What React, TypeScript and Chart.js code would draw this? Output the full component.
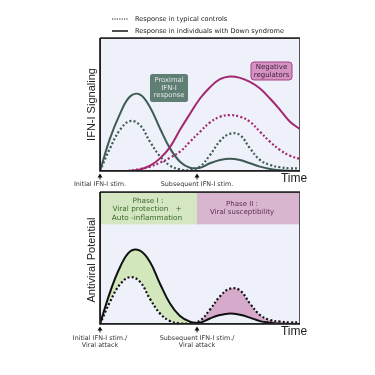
import React, { useEffect, useRef } from "react";
import { Chart, registerables } from "chart.js";

Chart.register(...registerables);

// ---------- data (x in arbitrary time units 0..10, y in arbitrary response units 0..10) ----------
const timeGrid = [0, 0.5, 1, 1.5, 2, 2.5, 3, 3.5, 4, 4.5, 5, 5.5, 6, 6.5, 7, 7.5, 8, 8.5, 9, 9.5, 10];
const regTime = [1.4, 2, 2.5, 3, 3.5, 4, 4.5, 5, 5.5, 6, 6.5, 7, 7.5, 8, 8.5, 9, 9.5, 10];

// Top panel: IFN-I signaling
const proximalDS = [0, 2.45, 4.3, 5.6, 5.75, 4.8, 3.2, 1.7, 0.7, 0.25, 0.25, 0.58, 0.83, 0.93, 0.83, 0.58, 0.33, 0.15, 0.05, 0.01, 0];
const proximalCtrl = [0, 1.7, 3.1, 3.75, 3.45, 2.2, 1.1, 0.4, 0.12, 0.07, 0.33, 1.2, 2.25, 2.8, 2.7, 1.7, 0.83, 0.45, 0.28, 0.2, 0.2];
const negRegDS = [0, 0.12, 0.4, 0.95, 1.8, 3.1, 4.3, 5.45, 6.3, 6.9, 7.1, 7.0, 6.7, 6.2, 5.45, 4.6, 3.7, 3.15];
const negRegCtrl = [0, 0.15, 0.33, 0.63, 1.0, 1.45, 2.2, 2.95, 3.65, 4.08, 4.2, 4.08, 3.7, 2.95, 2.2, 1.58, 1.15, 0.9];

// Bottom panel: antiviral potential
const antiviralDS = [0, 2.4, 4.3, 5.5, 5.55, 4.7, 3.05, 1.55, 0.6, 0.18, 0.1, 0.42, 0.68, 0.8, 0.7, 0.48, 0.22, 0.1, 0.02, 0, 0];
const antiviralCtrl = [0, 1.68, 3.0, 3.55, 3.2, 1.9, 0.8, 0.22, 0.05, 0.05, 0.25, 1.1, 2.1, 2.68, 2.55, 1.55, 0.68, 0.3, 0.18, 0.12, 0.12];

// stimulation times (arrows)
const stimTimes = [0, 4.85];
const topStimLabels = ["Initial IFN-I stim.", "Subsequent IFN-I stim."];
const bottomStimLabels = [["Initial IFN-I stim./", "Viral attack"], ["Subsequent IFN-I stim./", "Viral attack"]];
const legendLabels = ["Response in typical controls", "Response in individuals with Down syndrome"];

const GREEN = "#3d5b53";
const MAGENTA = "#a3276f";
const BG = "#eef0fa";

const pts = (xs: number[], ys: number[]) => xs.map((x, i) => ({ x, y: ys[i] }));

function drawArrow(ctx: CanvasRenderingContext2D, x: number, yTip: number) {
  ctx.save();
  ctx.fillStyle = "#111";
  ctx.strokeStyle = "#111";
  ctx.lineWidth = 1;
  ctx.beginPath();
  ctx.moveTo(x, yTip);
  ctx.lineTo(x - 2.5, yTip + 4);
  ctx.lineTo(x + 2.5, yTip + 4);
  ctx.closePath();
  ctx.fill();
  ctx.beginPath();
  ctx.moveTo(x, yTip + 3);
  ctx.lineTo(x, yTip + 6);
  ctx.stroke();
  ctx.restore();
}

function roundRect(ctx: CanvasRenderingContext2D, x: number, y: number, w: number, h: number, r: number) {
  ctx.beginPath();
  ctx.moveTo(x + r, y);
  ctx.lineTo(x + w - r, y);
  ctx.quadraticCurveTo(x + w, y, x + w, y + r);
  ctx.lineTo(x + w, y + h - r);
  ctx.quadraticCurveTo(x + w, y + h, x + w - r, y + h);
  ctx.lineTo(x + r, y + h);
  ctx.quadraticCurveTo(x, y + h, x, y + h - r);
  ctx.lineTo(x, y + r);
  ctx.quadraticCurveTo(x, y, x + r, y);
  ctx.closePath();
}

const bgPlugin = (bottom: boolean) => ({
  id: "bgPanel",
  beforeDraw(chart: any) {
    const { ctx, chartArea: a, scales } = chart;
    ctx.save();
    ctx.fillStyle = BG;
    ctx.fillRect(a.left, a.top, a.right - a.left, a.bottom - a.top);
    if (bottom) {
      const xs = scales.x, ys = scales.y;
      const yb = ys.getPixelForValue(7.55);
      const xm = xs.getPixelForValue(stimTimes[1]);
      ctx.fillStyle = "#d4e7c2";
      ctx.fillRect(a.left, a.top, xm - a.left, yb - a.top);
      ctx.fillStyle = "#d8b6d0";
      ctx.fillRect(xm, a.top, a.right - xm, yb - a.top);
    }
    ctx.restore();
  },
  afterDatasetsDraw(chart: any) {
    const { ctx, chartArea: a, scales } = chart;
    const xs = scales.x;
    ctx.save();
    // frame
    ctx.strokeStyle = "#555";
    ctx.lineWidth = 1;
    ctx.strokeRect(a.left + 0.5, a.top + 0.5, a.right - a.left - 1, a.bottom - a.top - 1);
    ctx.strokeStyle = "#222";
    ctx.lineWidth = 1.5;
    ctx.beginPath();
    ctx.moveTo(a.left, a.top);
    ctx.lineTo(a.right, a.top);
    ctx.stroke();
    ctx.strokeStyle = "#111";
    ctx.lineWidth = 1.6;
    ctx.beginPath();
    ctx.moveTo(a.left, a.top);
    ctx.lineTo(a.left, a.bottom);
    ctx.lineTo(a.right, a.bottom);
    ctx.stroke();

    ctx.textAlign = "center";
    ctx.textBaseline = "middle";
    // y axis title
    ctx.save();
    ctx.translate(a.left - 8, (a.top + a.bottom) / 2 + (bottom ? 2 : 0));
    ctx.rotate(-Math.PI / 2);
    ctx.fillStyle = "#222";
    ctx.font = "11px 'Liberation Sans', Arial, sans-serif";
    ctx.fillText(bottom ? "Antiviral Potential" : "IFN-I Signaling", 0, 0);
    ctx.restore();
    // Time label
    ctx.fillStyle = "#222";
    ctx.font = "12px 'Liberation Sans', Arial, sans-serif";
    ctx.fillText("Time", a.right - 6, a.bottom + 8);

    // arrows + labels
    ctx.font = "6.4px 'DejaVu Sans', sans-serif";
    stimTimes.forEach((t, i) => {
      const x = xs.getPixelForValue(t);
      drawArrow(ctx, x, a.bottom + 2.5);
      ctx.fillStyle = "#333";
      if (bottom) {
        ctx.fillText(bottomStimLabels[i][0], x, a.bottom + 14);
        ctx.fillText(bottomStimLabels[i][1], x, a.bottom + 21);
      } else {
        ctx.fillText(topStimLabels[i], x, a.bottom + 13.5);
      }
    });

    if (!bottom) {
      // Proximal box
      roundRect(ctx, 150, 74, 38, 28, 2.5);
      ctx.fillStyle = "#5f7e74";
      ctx.fill();
      ctx.fillStyle = "#e4ece6";
      ctx.font = "6.8px 'DejaVu Sans', sans-serif";
      ctx.fillText("Proximal", 169, 80.5);
      ctx.fillText("IFN-I", 169, 88);
      ctx.fillText("response", 169, 95.5);
      // Negative regulators box
      roundRect(ctx, 251, 62, 41, 18, 3);
      ctx.fillStyle = "#d592c4";
      ctx.fill();
      ctx.strokeStyle = "#a3407e";
      ctx.lineWidth = 1;
      ctx.stroke();
      ctx.fillStyle = "#3c1f37";
      ctx.font = "7px 'DejaVu Sans', sans-serif";
      ctx.fillText("Negative", 271.5, 67.5);
      ctx.fillText("regulators", 271.5, 75);
      // legend
      ctx.strokeStyle = "#222";
      ctx.lineWidth = 1.2;
      ctx.setLineDash([1.2, 1.2]);
      ctx.beginPath();
      ctx.moveTo(112, 19);
      ctx.lineTo(128, 19);
      ctx.stroke();
      ctx.setLineDash([]);
      ctx.lineWidth = 1.6;
      ctx.beginPath();
      ctx.moveTo(112, 31);
      ctx.lineTo(128, 31);
      ctx.stroke();
      ctx.textAlign = "left";
      ctx.fillStyle = "#222";
      ctx.font = "6.6px 'DejaVu Sans', sans-serif";
      ctx.fillText(legendLabels[0], 135, 19);
      ctx.fillText(legendLabels[1], 135, 31);
    } else {
      ctx.font = "7.3px 'DejaVu Sans', sans-serif";
      ctx.fillStyle = "#3b6a2c";
      ctx.fillText("Phase I :", 148, 201);
      ctx.fillText("Viral protection   +", 147, 209.5);
      ctx.fillText("Auto -inflammation", 147, 218);
      ctx.fillStyle = "#5c2c54";
      ctx.font = "7px 'DejaVu Sans', sans-serif";
      ctx.fillText("Phase II :", 242, 204);
      ctx.fillText("Viral susceptibility", 242, 212);
    }
    ctx.restore();
  },
});

const baseOptions = (padding: any) => ({
  responsive: false,
  animation: false as const,
  devicePixelRatio: 1,
  layout: { padding },
  plugins: { legend: { display: false }, tooltip: { enabled: false }, filler: { drawTime: "beforeDatasetsDraw" } },
  elements: { point: { radius: 0 } },
  scales: {
    x: { type: "linear" as const, min: 0, max: 10, display: false },
    y: { min: 0, max: 10, display: false },
  },
});

export default function App() {
  const topRef = useRef<HTMLCanvasElement>(null);
  const botRef = useRef<HTMLCanvasElement>(null);

  useEffect(() => {
    const common = { tension: 0.4, pointRadius: 0, borderWidth: 2 };
    const dotted = { borderDash: [2, 2.2], borderCapStyle: "butt" as const, borderWidth: 2.2 };
    const top = new Chart(topRef.current!, {
      type: "line",
      data: {
        datasets: [
          { ...common, ...dotted, data: pts(regTime, negRegCtrl), borderColor: MAGENTA, fill: false },
          { ...common, data: pts(regTime, negRegDS), borderColor: MAGENTA, fill: false },
          { ...common, ...dotted, data: pts(timeGrid, proximalCtrl), borderColor: GREEN, fill: false },
          { ...common, data: pts(timeGrid, proximalDS), borderColor: GREEN, fill: false },
        ],
      },
      options: baseOptions({ left: 100, right: 75, top: 38, bottom: 204 }) as any,
      plugins: [bgPlugin(false)],
    });
    const bot = new Chart(botRef.current!, {
      type: "line",
      data: {
        datasets: [
          {
            ...common,
            data: pts(timeGrid, antiviralDS),
            borderColor: "#111",
            fill: { target: 1, above: "#d3e7bd", below: "#d6aacb" },
          },
          { ...common, ...dotted, data: pts(timeGrid, antiviralCtrl), borderColor: "#111", fill: false },
        ],
      },
      options: baseOptions({ left: 100, right: 75, top: 192, bottom: 51 }) as any,
      plugins: [bgPlugin(true)],
    });
    return () => {
      top.destroy();
      bot.destroy();
    };
  }, []);

  const cs: React.CSSProperties = { position: "absolute", left: 0, top: 0 };
  return (
    <div style={{ position: "fixed", left: 0, top: 0, width: 375, height: 375, background: "#fff" }}>
      <canvas ref={topRef} width={375} height={375} style={cs} />
      <canvas ref={botRef} width={375} height={375} style={cs} />
    </div>
  );
}
